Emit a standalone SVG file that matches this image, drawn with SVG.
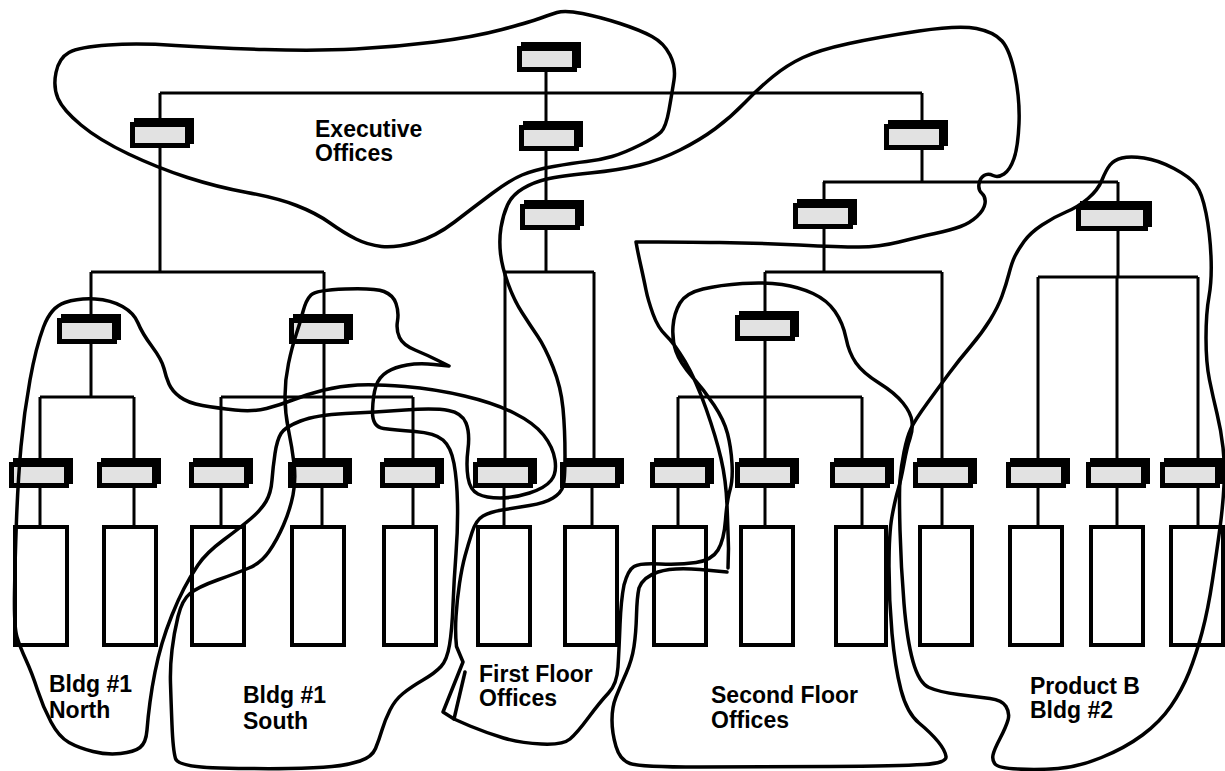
<svg xmlns="http://www.w3.org/2000/svg" width="1225" height="771" viewBox="0 0 1225 771">
<defs>
<style>
.c{fill:none;stroke:#000;stroke-width:3}
.sh{fill:#000}
.fr{fill:#e2e2e2;stroke:#000;stroke-width:5}
.lf{fill:#fff;stroke:#000;stroke-width:4}
.b{fill:none;stroke:#000;stroke-width:3.5;stroke-linejoin:round;stroke-linecap:round}
.t{font-family:"Liberation Sans",Arial,sans-serif;font-weight:bold;font-size:23px;fill:#000}
</style>
</defs>
<rect width="1225" height="771" fill="#fff"/>
<g id="connectors" class="c">
<path d="M546,72V272M160,93H922M160,93V272M922,93V182M823,182H1118M824,182V272M765,272H942M765,272V462M678,397H862M678,397V462M862,397V462M942,272V462M1118,182V277M1038,277H1198M1038,277V462M1117,277V462M1198,277V462M91,272H324M91,272V397M40,397H134M40,397V462M134,397V462M324,272V462M221,397H413M221,397V462M413,397V462M505,272H594M505,272V462M594,272V462"/>
<path d="M40,487V525M134,487V525M221,487V525M322,487V525M413,487V525M504,487V525M592,487V525M678,487V525M765,487V525M862,487V525M942,487V525M1038,487V525M1117,487V525M1198,487V525"/>
</g>
<g id="sw-root"><rect class="sh" x="521" y="42" width="60" height="26"/><rect class="fr" x="519.5" y="48.5" width="55" height="21"/></g>
<g id="sw-1a"><rect class="sh" x="134" y="118" width="60" height="26"/><rect class="fr" x="132.5" y="124.5" width="55" height="21"/></g>
<g id="sw-1b"><rect class="sh" x="523" y="121" width="60" height="26"/><rect class="fr" x="521.5" y="127.5" width="55" height="21"/></g>
<g id="sw-1c"><rect class="sh" x="888" y="120" width="60" height="26"/><rect class="fr" x="886.5" y="126.5" width="55" height="21"/></g>
<g id="sw-2a"><rect class="sh" x="524" y="200" width="60" height="26"/><rect class="fr" x="522.5" y="206.5" width="55" height="21"/></g>
<g id="sw-2b"><rect class="sh" x="797" y="199" width="60" height="26"/><rect class="fr" x="795.5" y="205.5" width="55" height="21"/></g>
<g id="sw-2c"><rect class="sh" x="1080" y="201" width="72" height="26"/><rect class="fr" x="1078.5" y="207.5" width="67" height="21"/></g>
<g id="sw-3a"><rect class="sh" x="61" y="314" width="60" height="26"/><rect class="fr" x="59.5" y="320.5" width="55" height="21"/></g>
<g id="sw-3b"><rect class="sh" x="293" y="314" width="60" height="26"/><rect class="fr" x="291.5" y="320.5" width="55" height="21"/></g>
<g id="sw-3c"><rect class="sh" x="739" y="311" width="60" height="26"/><rect class="fr" x="737.5" y="317.5" width="55" height="21"/></g>
<g id="ws-1"><rect class="sh" x="13" y="458" width="60" height="26"/><rect class="fr" x="11.5" y="464.5" width="55" height="21"/><rect class="lf" x="15" y="527" width="52" height="118"/></g>
<g id="ws-2"><rect class="sh" x="101" y="458" width="60" height="26"/><rect class="fr" x="99.5" y="464.5" width="55" height="21"/><rect class="lf" x="104" y="527" width="52" height="118"/></g>
<g id="ws-3"><rect class="sh" x="193" y="458" width="60" height="26"/><rect class="fr" x="191.5" y="464.5" width="55" height="21"/><rect class="lf" x="192" y="527" width="52" height="118"/></g>
<g id="ws-4"><rect class="sh" x="292" y="458" width="60" height="26"/><rect class="fr" x="290.5" y="464.5" width="55" height="21"/><rect class="lf" x="292" y="527" width="52" height="118"/></g>
<g id="ws-5"><rect class="sh" x="384" y="458" width="60" height="26"/><rect class="fr" x="382.5" y="464.5" width="55" height="21"/><rect class="lf" x="384" y="527" width="52" height="118"/></g>
<g id="ws-6"><rect class="sh" x="477" y="458" width="60" height="26"/><rect class="fr" x="475.5" y="464.5" width="55" height="21"/><rect class="lf" x="478" y="527" width="52" height="118"/></g>
<g id="ws-7"><rect class="sh" x="564" y="458" width="60" height="26"/><rect class="fr" x="562.5" y="464.5" width="55" height="21"/><rect class="lf" x="565" y="527" width="52" height="118"/></g>
<g id="ws-8"><rect class="sh" x="654" y="458" width="60" height="26"/><rect class="fr" x="652.5" y="464.5" width="55" height="21"/><rect class="lf" x="654" y="527" width="52" height="118"/></g>
<g id="ws-9"><rect class="sh" x="739" y="458" width="60" height="26"/><rect class="fr" x="737.5" y="464.5" width="55" height="21"/><rect class="lf" x="741" y="527" width="52" height="118"/></g>
<g id="ws-10"><rect class="sh" x="834" y="458" width="60" height="26"/><rect class="fr" x="832.5" y="464.5" width="55" height="21"/><rect class="lf" x="836" y="527" width="50" height="118"/></g>
<g id="ws-11"><rect class="sh" x="917" y="458" width="60" height="26"/><rect class="fr" x="915.5" y="464.5" width="55" height="21"/><rect class="lf" x="920" y="527" width="52" height="118"/></g>
<g id="ws-12"><rect class="sh" x="1010" y="458" width="60" height="26"/><rect class="fr" x="1008.5" y="464.5" width="55" height="21"/><rect class="lf" x="1010" y="527" width="52" height="118"/></g>
<g id="ws-13"><rect class="sh" x="1090" y="458" width="60" height="26"/><rect class="fr" x="1088.5" y="464.5" width="55" height="21"/><rect class="lf" x="1091" y="527" width="52" height="118"/></g>
<g id="ws-14"><rect class="sh" x="1164" y="458" width="60" height="26"/><rect class="fr" x="1162.5" y="464.5" width="55" height="21"/><rect class="lf" x="1171" y="527" width="52" height="118"/></g>
<g id="zone-exec">
<path class="b" d="M557,12.5 Q565,10 582.5,13.5 Q600,17 620,23.5 Q640,30 652,36.5 Q664,43 670,55 Q676,67 674,80 Q672,93 669,110 Q666,127 661,132 Q656,137 640,145 Q624,153 612,156.5 Q600,160 586.5,161.5 Q573,163 553.5,166.5 Q534,170 522,175 Q510,180 492,193.5 Q474,207 454.5,222 Q435,237 415,242.5 Q395,248 381.5,246.5 Q368,245 356,239 Q344,233 330,223 Q316,213 296.5,205.5 Q277,198 247,192.5 Q217,187 187.5,177.5 Q158,168 128.5,154 Q99,140 81,125 Q63,110 58,98.5 Q53,87 56,72.5 Q59,58 69,52.5 Q79,47 108.5,45 Q138,43 175.5,45.5 Q213,48 264.5,49.5 Q316,51 355.5,49 Q395,47 434.5,42 Q474,37 502,29.5 Q530,22 539.5,18.5 Q549,15 557,12.5 Z"/>
<text class="t" x="315" y="136.5">Executive</text>
<text class="t" x="315" y="161">Offices</text>
</g>
<g id="zone-north">
<path class="b" d="M65,302.5 Q79,298 95,299 Q111,300 122.5,306.5 Q134,313 138,323 Q142,333 152,346.5 Q162,360 164,368.5 Q166,377 169,384 Q172,391 180,397 Q188,403 202.5,405.5 Q217,408 235,410 Q253,412 266.5,408.5 Q280,405 294,399.5 Q308,394 324,390 Q340,386 357.5,385 Q375,384 405,386.5 Q435,389 464.5,396 Q494,403 514,413 Q534,423 543.5,435 Q553,447 555,460 Q557,473 551,480.5 Q545,488 529.5,493 Q514,498 500,498 Q486,498 478,494 Q470,490 468,477.5 Q466,465 468,449 Q470,433 466,423 Q462,413 448.5,410.5 Q435,408 405,410 Q375,412 345.5,413.5 Q316,415 300.5,421 Q285,427 281,433.5 Q277,440 275,453.5 Q273,467 272,480 Q271,493 266,501.5 Q261,510 251,518.5 Q241,527 223.5,540 Q206,553 198,565 Q190,577 184,588.5 Q178,600 172,615 Q166,630 162,643.5 Q158,657 155,672 Q152,687 150,702 Q148,717 147,730 Q146,743 140,747.5 Q134,752 120.5,753.5 Q107,755 93,751.5 Q79,748 69,742.5 Q59,737 51,722 Q43,707 37.5,690 Q32,673 26,660 Q20,647 17,637 Q14,627 14.5,593.5 Q15,560 16.5,520 Q18,480 21,446.5 Q24,413 30,380 Q36,347 43.5,327 Q51,307 65,302.5 Z"/>
<text class="t" x="49" y="692">Bldg #1</text>
<text class="t" x="49" y="718">North</text>
</g>
<g id="zone-south">
<path class="b" d="M311,295 Q316,290 345.5,289 Q375,288 384,291.5 Q393,295 396,303.5 Q399,312 397.5,321 Q396,330 399.5,337.5 Q403,345 415,350 Q427,355 438,360.5 L449,366 L434,364.5 Q419,363 407,365 Q395,367 387,372 Q379,377 376,386 Q373,395 372.5,411 Q372,427 383.5,428.5 Q395,430 415,431.5 Q435,433 443,440 Q451,447 454,463.5 Q457,480 457.5,503.5 Q458,527 456,553.5 Q454,580 453,605 Q452,630 449.5,645 Q447,660 441,666.5 Q435,673 423,680 Q411,687 403,693.5 Q395,700 390,710 Q385,720 382,730 Q379,740 375.5,748.5 Q372,757 360,761 Q348,765 332,766.5 Q316,768 288.5,768.5 Q261,769 219.5,768 Q178,767 175.5,758.5 Q173,750 172,725 Q171,700 170.5,683.5 Q170,667 172,650 Q174,633 178,616.5 Q182,600 190,593.5 Q198,587 217.5,580 Q237,573 249,568 Q261,563 269,551.5 Q277,540 283.5,525 Q290,510 293,495 Q296,480 294,463.5 Q292,447 288.5,430 Q285,413 285,396.5 Q285,380 288.5,363.5 Q292,347 296,335 Q300,323 303,311.5 Q306,300 311,295 Z"/>
<text class="t" x="243" y="703">Bldg #1</text>
<text class="t" x="243" y="729">South</text>
</g>
<g id="zone-floors">
<path class="b" d="M728,568 L728.5,548.5 Q728,530 727,505 Q726,480 721,458.5 Q716,437 706,408.5 Q696,380 685,361.5 Q674,343 666,335.5 Q658,328 653,314 Q648,300 646,290 Q644,280 641,266.5 Q638,253 637,247.5 L636,242 L658,242 Q680,242 719.5,242.5 Q759,243 799,245 Q839,247 859,247 Q879,247 899,242 Q919,237 935,233.5 Q951,230 960.5,226.5 Q970,223 977,216.5 Q984,210 985,203.5 Q986,197 982,193.5 Q978,190 979,184 Q980,178 984,175.5 Q988,173 993,175.5 Q998,178 1004,174 Q1010,170 1014,158.5 Q1018,147 1019,123.5 Q1020,100 1015,75 Q1010,50 1002,41 Q994,32 976.5,28.5 Q959,25 919,31 Q879,37 849,43.5 Q819,50 803,57.5 Q787,65 773,76.5 Q759,88 745,102.5 Q731,117 715.5,128.5 Q700,140 680,150 Q660,160 640,165 Q620,170 590,173 Q560,176 547,179 Q534,182 523,188.5 Q512,195 507.5,205 Q503,215 501,227.5 Q499,240 500.5,253.5 Q502,267 508,283.5 Q514,300 522,312.5 Q530,325 537.5,336 Q545,347 553,367 Q561,387 563,408.5 Q565,430 565,455 Q565,480 563,486.5 Q561,493 553,498 Q545,503 529.5,505.5 Q514,508 502,510 Q490,512 483,516 Q476,520 472,532.5 Q468,545 465,556 Q462,567 459.5,583.5 Q457,600 456,616.5 Q455,633 456.5,646.5 L463,662 L443,712 L454,719 L470,726 Q487,733 503.5,738 Q520,743 541.5,744 Q563,745 570,739 Q577,733 588.5,717.5 Q600,702 608.5,693 Q617,684 618,667 Q619,650 620,625 Q621,600 624,585 Q628,570 634,566.5 Q640,563 660,564 Q680,565 696,562.5 Q712,560 718,550 Q724,540 725.5,520 Q727,500 730,490 Q733,480 732,463.5 Q731,447 727.5,433.5 Q724,420 714,405 Q704,390 692,376.5 Q680,363 676,351.5 Q672,340 673,326.5 Q674,313 680,303 Q686,293 703,289 Q720,285 742.5,283.5 Q765,282 782,284.5 Q799,287 813,293.5 Q827,300 835,311.5 Q843,323 846,338 Q849,353 856,363 Q863,373 879,383 Q895,393 903,403 Q911,413 912,421.5 Q913,430 910,438.5 Q907,447 904,463.5 Q901,480 898,490 Q895,500 892,516.5 Q889,533 889,566.5 Q889,600 892,633.5 Q895,667 901,690 Q907,713 919,723 Q931,733 938,741.5 Q945,750 946,756.5 Q947,763 923.5,764.5 Q900,766 829.5,766.5 Q759,767 699.5,767 Q640,767 630,763.5 Q620,760 616,746.5 Q612,733 612,720 Q612,707 616,697 Q620,687 626,673.5 Q632,660 634,646.5 Q636,633 636.5,615 Q637,597 639,588 Q643,577 658,572 Q673,567 700,569.5 L727,572"/>
<path class="b" d="M454,719 L465,672"/>
<text class="t" x="479" y="682">First Floor</text>
<text class="t" x="479" y="706">Offices</text>
<text class="t" x="711" y="703">Second Floor</text>
<text class="t" x="711" y="728">Offices</text>
</g>
<g id="zone-productb">
<path class="b" d="M1066,212 Q1078,207 1088,198.5 Q1098,190 1102,180 Q1106,170 1110,165 Q1114,160 1122,158 Q1130,156 1144,158 Q1158,160 1174,168.5 Q1190,177 1196,185 Q1202,193 1206,213 Q1210,233 1211,256.5 Q1212,280 1209,296.5 Q1206,313 1206,338 Q1206,363 1209.5,380 Q1213,397 1217,413.5 Q1221,430 1223,447.5 Q1225,465 1224,485 Q1223,505 1220,527.5 Q1217,550 1212.5,580 Q1208,610 1202,632.5 Q1196,655 1189,672.5 Q1182,690 1171,706 Q1160,722 1142.5,735 Q1125,748 1101.5,757.5 Q1078,767 1058,768.5 Q1038,770 1018,769 Q998,768 995,764 Q992,760 993,755 Q994,750 1000,738.5 Q1006,727 1008,720 Q1010,713 1006,706.5 Q1002,700 990,698.5 Q978,697 958.5,694.5 Q939,692 929,687.5 Q919,683 913,661.5 Q907,640 904,603.5 Q901,567 900,530 Q899,493 900,480 Q901,467 904,452 Q907,437 911,428.5 Q915,420 927,403.5 Q939,387 949,373.5 Q959,360 970.5,346.5 Q982,333 990,320 Q998,307 1002,296 Q1006,285 1009,273.5 Q1012,262 1015,256 Q1018,250 1024,241.5 Q1030,233 1042,225 Q1054,217 1066,212 Z"/>
<text class="t" x="1030" y="694">Product B</text>
<text class="t" x="1030" y="718">Bldg #2</text>
</g>
</svg>
